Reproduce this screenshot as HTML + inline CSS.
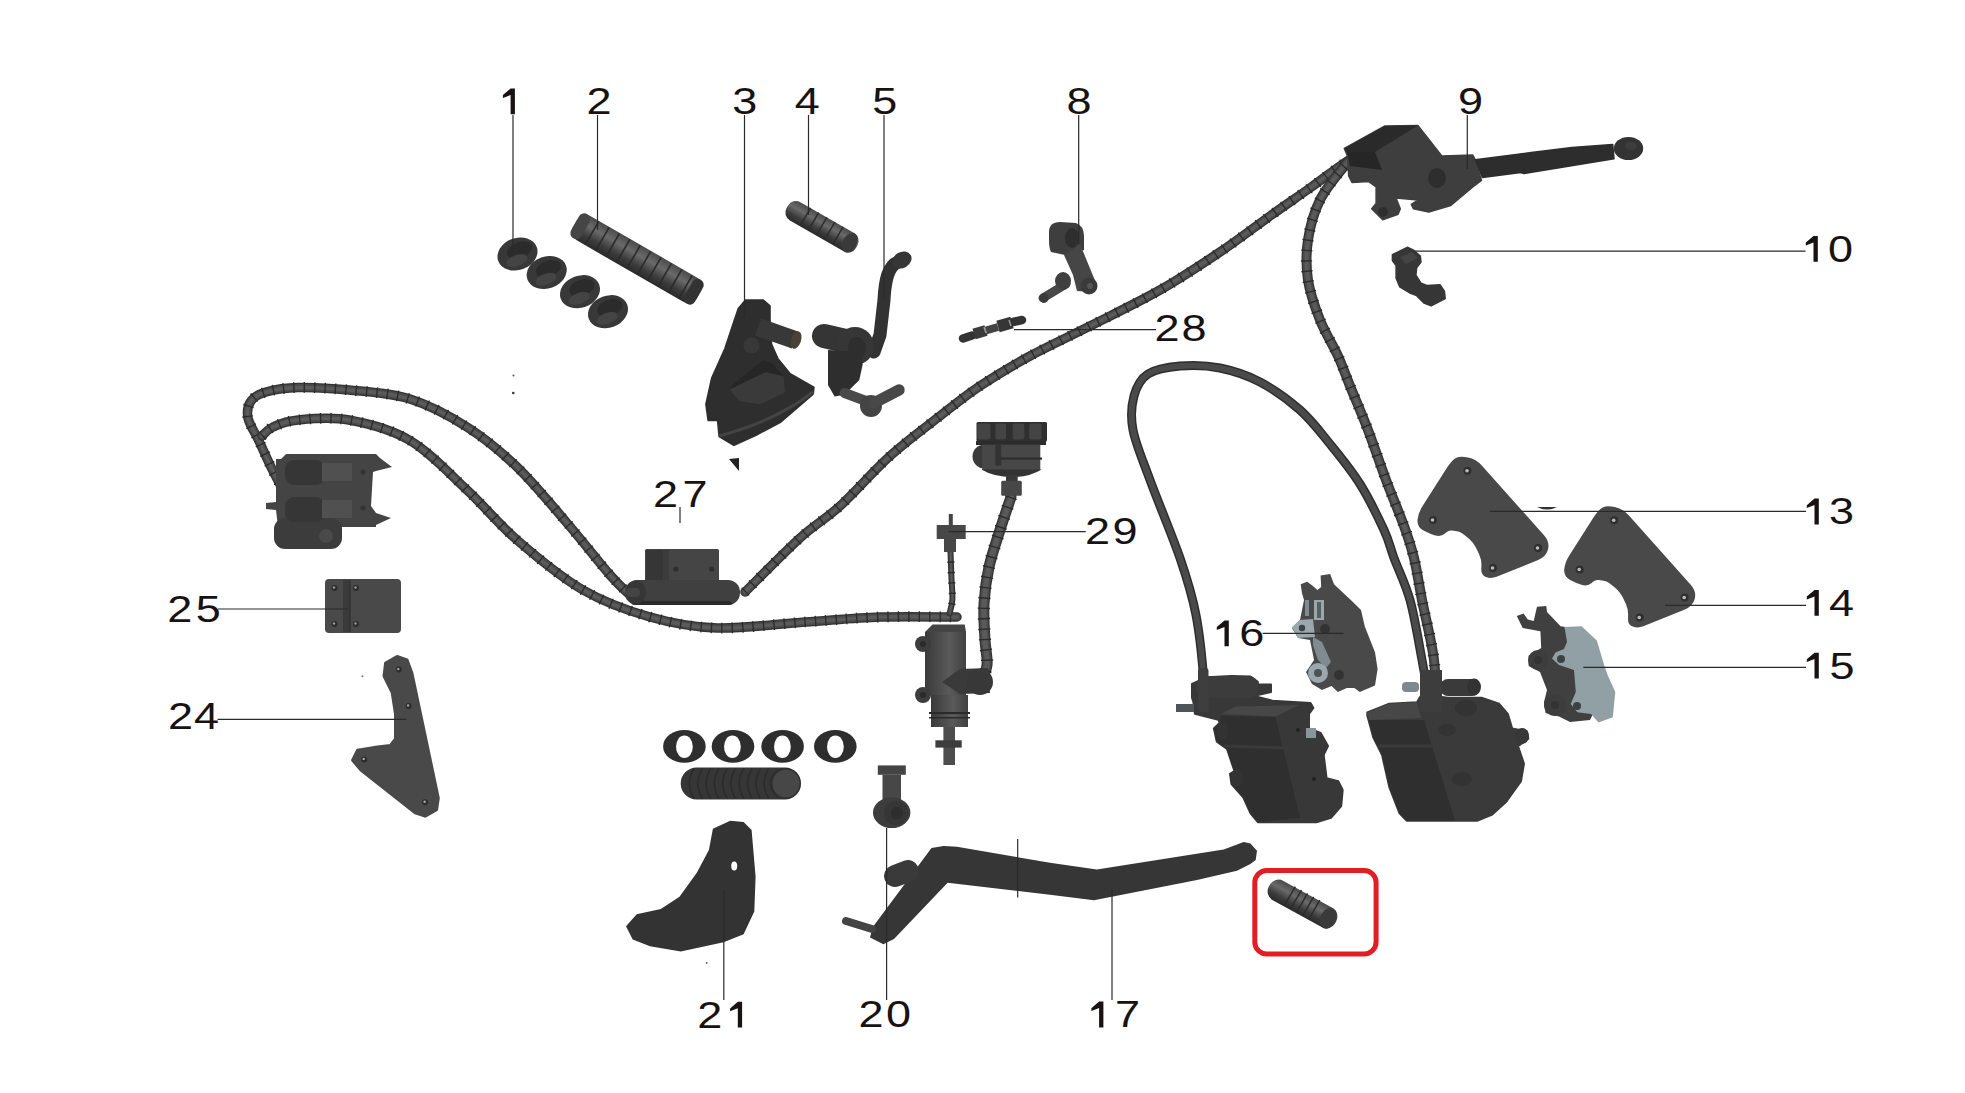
<!DOCTYPE html>
<html><head><meta charset="utf-8"><style>html,body{margin:0;padding:0;background:#fff;width:1965px;height:1093px;overflow:hidden}svg{display:block}</style></head>
<body><svg width="1965" height="1093" viewBox="0 0 1965 1093"><rect width="1965" height="1093" fill="#fff"/>
<path d="M284 492 C282.0 488.2 276.2 477.5 272 469 C267.8 460.5 263.0 449.5 259 441 C255.0 432.5 249.3 424.7 248 418 C246.7 411.3 248.0 405.3 251 401 C254.0 396.7 258.2 394.2 266 392 C273.8 389.8 284.2 387.8 298 387.5 C311.8 387.2 330.3 388.1 349 390 C367.7 391.9 390.3 392.8 410 399 C429.7 405.2 449.2 415.7 467 427 C484.8 438.3 500.3 451.0 517 467 C533.7 483.0 551.5 505.0 567 523 C582.5 541.0 599.2 562.7 610 575 C620.8 587.3 628.3 593.3 632 597" fill="none" stroke="#333" stroke-width="9.5" stroke-linecap="round" stroke-linejoin="round"/>
<path d="M284 492 C282.0 488.2 276.2 477.5 272 469 C267.8 460.5 263.0 449.5 259 441 C255.0 432.5 249.3 424.7 248 418 C246.7 411.3 248.0 405.3 251 401 C254.0 396.7 258.2 394.2 266 392 C273.8 389.8 284.2 387.8 298 387.5 C311.8 387.2 330.3 388.1 349 390 C367.7 391.9 390.3 392.8 410 399 C429.7 405.2 449.2 415.7 467 427 C484.8 438.3 500.3 451.0 517 467 C533.7 483.0 551.5 505.0 567 523 C582.5 541.0 599.2 562.7 610 575 C620.8 587.3 628.3 593.3 632 597" fill="none" stroke="#4a4a4a" stroke-width="7.0" stroke-linecap="round" stroke-linejoin="round"/>
<path d="M284 492 C282.0 488.2 276.2 477.5 272 469 C267.8 460.5 263.0 449.5 259 441 C255.0 432.5 249.3 424.7 248 418 C246.7 411.3 248.0 405.3 251 401 C254.0 396.7 258.2 394.2 266 392 C273.8 389.8 284.2 387.8 298 387.5 C311.8 387.2 330.3 388.1 349 390 C367.7 391.9 390.3 392.8 410 399 C429.7 405.2 449.2 415.7 467 427 C484.8 438.3 500.3 451.0 517 467 C533.7 483.0 551.5 505.0 567 523 C582.5 541.0 599.2 562.7 610 575 C620.8 587.3 628.3 593.3 632 597" fill="none" stroke="#5a5a5a" stroke-width="3.5" stroke-linecap="round" stroke-linejoin="round"/>
<path d="M284 492 C282.0 488.2 276.2 477.5 272 469 C267.8 460.5 263.0 449.5 259 441 C255.0 432.5 249.3 424.7 248 418 C246.7 411.3 248.0 405.3 251 401 C254.0 396.7 258.2 394.2 266 392 C273.8 389.8 284.2 387.8 298 387.5 C311.8 387.2 330.3 388.1 349 390 C367.7 391.9 390.3 392.8 410 399 C429.7 405.2 449.2 415.7 467 427 C484.8 438.3 500.3 451.0 517 467 C533.7 483.0 551.5 505.0 567 523 C582.5 541.0 599.2 562.7 610 575 C620.8 587.3 628.3 593.3 632 597" fill="none" stroke="#2c2c2c" stroke-width="10.7" stroke-dasharray="1.4 9" stroke-linecap="butt"/>
<path d="M262 436 C263.8 434.5 267.0 429.7 273 427 C279.0 424.3 285.3 421.2 298 420 C310.7 418.8 330.3 416.6 349 420 C367.7 423.4 390.3 428.8 410 440.5 C429.7 452.2 449.2 473.4 467 490 C484.8 506.6 497.7 523.3 517 540 C536.3 556.7 560.8 577.2 583 590 C605.2 602.8 627.7 610.7 650 617 C672.3 623.3 691.2 627.2 717 628 C742.8 628.8 777.8 623.8 805 622 C832.2 620.2 854.7 617.8 880 617 C905.3 616.2 944.2 617.0 957 617" fill="none" stroke="#333" stroke-width="9.5" stroke-linecap="round" stroke-linejoin="round"/>
<path d="M262 436 C263.8 434.5 267.0 429.7 273 427 C279.0 424.3 285.3 421.2 298 420 C310.7 418.8 330.3 416.6 349 420 C367.7 423.4 390.3 428.8 410 440.5 C429.7 452.2 449.2 473.4 467 490 C484.8 506.6 497.7 523.3 517 540 C536.3 556.7 560.8 577.2 583 590 C605.2 602.8 627.7 610.7 650 617 C672.3 623.3 691.2 627.2 717 628 C742.8 628.8 777.8 623.8 805 622 C832.2 620.2 854.7 617.8 880 617 C905.3 616.2 944.2 617.0 957 617" fill="none" stroke="#4a4a4a" stroke-width="7.0" stroke-linecap="round" stroke-linejoin="round"/>
<path d="M262 436 C263.8 434.5 267.0 429.7 273 427 C279.0 424.3 285.3 421.2 298 420 C310.7 418.8 330.3 416.6 349 420 C367.7 423.4 390.3 428.8 410 440.5 C429.7 452.2 449.2 473.4 467 490 C484.8 506.6 497.7 523.3 517 540 C536.3 556.7 560.8 577.2 583 590 C605.2 602.8 627.7 610.7 650 617 C672.3 623.3 691.2 627.2 717 628 C742.8 628.8 777.8 623.8 805 622 C832.2 620.2 854.7 617.8 880 617 C905.3 616.2 944.2 617.0 957 617" fill="none" stroke="#5a5a5a" stroke-width="3.5" stroke-linecap="round" stroke-linejoin="round"/>
<path d="M262 436 C263.8 434.5 267.0 429.7 273 427 C279.0 424.3 285.3 421.2 298 420 C310.7 418.8 330.3 416.6 349 420 C367.7 423.4 390.3 428.8 410 440.5 C429.7 452.2 449.2 473.4 467 490 C484.8 506.6 497.7 523.3 517 540 C536.3 556.7 560.8 577.2 583 590 C605.2 602.8 627.7 610.7 650 617 C672.3 623.3 691.2 627.2 717 628 C742.8 628.8 777.8 623.8 805 622 C832.2 620.2 854.7 617.8 880 617 C905.3 616.2 944.2 617.0 957 617" fill="none" stroke="#2c2c2c" stroke-width="10.7" stroke-dasharray="1.4 9" stroke-linecap="butt"/>
<path d="M745 592 C754.2 583.0 784.2 552.3 800 538 C815.8 523.7 825.0 519.7 840 506 C855.0 492.3 873.3 471.0 890 456 C906.7 441.0 925.0 427.7 940 416 C955.0 404.3 965.0 396.0 980 386 C995.0 376.0 1011.7 366.0 1030 356 C1048.3 346.0 1068.3 337.0 1090 326 C1111.7 315.0 1138.3 302.3 1160 290 C1181.7 277.7 1201.7 264.3 1220 252 C1238.3 239.7 1255.0 226.7 1270 216 C1285.0 205.3 1298.3 196.3 1310 188 C1321.7 179.7 1333.0 171.0 1340 166 C1347.0 161.0 1350.0 159.3 1352 158" fill="none" stroke="#333" stroke-width="9.5" stroke-linecap="round" stroke-linejoin="round"/>
<path d="M745 592 C754.2 583.0 784.2 552.3 800 538 C815.8 523.7 825.0 519.7 840 506 C855.0 492.3 873.3 471.0 890 456 C906.7 441.0 925.0 427.7 940 416 C955.0 404.3 965.0 396.0 980 386 C995.0 376.0 1011.7 366.0 1030 356 C1048.3 346.0 1068.3 337.0 1090 326 C1111.7 315.0 1138.3 302.3 1160 290 C1181.7 277.7 1201.7 264.3 1220 252 C1238.3 239.7 1255.0 226.7 1270 216 C1285.0 205.3 1298.3 196.3 1310 188 C1321.7 179.7 1333.0 171.0 1340 166 C1347.0 161.0 1350.0 159.3 1352 158" fill="none" stroke="#4a4a4a" stroke-width="7.0" stroke-linecap="round" stroke-linejoin="round"/>
<path d="M745 592 C754.2 583.0 784.2 552.3 800 538 C815.8 523.7 825.0 519.7 840 506 C855.0 492.3 873.3 471.0 890 456 C906.7 441.0 925.0 427.7 940 416 C955.0 404.3 965.0 396.0 980 386 C995.0 376.0 1011.7 366.0 1030 356 C1048.3 346.0 1068.3 337.0 1090 326 C1111.7 315.0 1138.3 302.3 1160 290 C1181.7 277.7 1201.7 264.3 1220 252 C1238.3 239.7 1255.0 226.7 1270 216 C1285.0 205.3 1298.3 196.3 1310 188 C1321.7 179.7 1333.0 171.0 1340 166 C1347.0 161.0 1350.0 159.3 1352 158" fill="none" stroke="#5a5a5a" stroke-width="3.5" stroke-linecap="round" stroke-linejoin="round"/>
<path d="M745 592 C754.2 583.0 784.2 552.3 800 538 C815.8 523.7 825.0 519.7 840 506 C855.0 492.3 873.3 471.0 890 456 C906.7 441.0 925.0 427.7 940 416 C955.0 404.3 965.0 396.0 980 386 C995.0 376.0 1011.7 366.0 1030 356 C1048.3 346.0 1068.3 337.0 1090 326 C1111.7 315.0 1138.3 302.3 1160 290 C1181.7 277.7 1201.7 264.3 1220 252 C1238.3 239.7 1255.0 226.7 1270 216 C1285.0 205.3 1298.3 196.3 1310 188 C1321.7 179.7 1333.0 171.0 1340 166 C1347.0 161.0 1350.0 159.3 1352 158" fill="none" stroke="#2c2c2c" stroke-width="10.7" stroke-dasharray="1.4 9" stroke-linecap="butt"/>
<path d="M1352 160 C1351.0 160.7 1351.3 157.3 1346 164 C1340.7 170.7 1326.3 187.3 1320 200 C1313.7 212.7 1310.0 226.7 1308 240 C1306.0 253.3 1306.0 266.7 1308 280 C1310.0 293.3 1315.0 307.3 1320 320 C1325.0 332.7 1333.0 345.0 1338 356 C1343.0 367.0 1345.0 373.7 1350 386 C1355.0 398.3 1362.0 414.3 1368 430 C1374.0 445.7 1380.0 464.0 1386 480 C1392.0 496.0 1399.3 513.0 1404 526 C1408.7 539.0 1411.0 545.7 1414 558 C1417.0 570.3 1418.7 583.0 1422 600 C1425.3 617.0 1431.7 641.3 1434 660 C1436.3 678.7 1435.7 703.3 1436 712" fill="none" stroke="#333" stroke-width="10" stroke-linecap="round" stroke-linejoin="round"/>
<path d="M1352 160 C1351.0 160.7 1351.3 157.3 1346 164 C1340.7 170.7 1326.3 187.3 1320 200 C1313.7 212.7 1310.0 226.7 1308 240 C1306.0 253.3 1306.0 266.7 1308 280 C1310.0 293.3 1315.0 307.3 1320 320 C1325.0 332.7 1333.0 345.0 1338 356 C1343.0 367.0 1345.0 373.7 1350 386 C1355.0 398.3 1362.0 414.3 1368 430 C1374.0 445.7 1380.0 464.0 1386 480 C1392.0 496.0 1399.3 513.0 1404 526 C1408.7 539.0 1411.0 545.7 1414 558 C1417.0 570.3 1418.7 583.0 1422 600 C1425.3 617.0 1431.7 641.3 1434 660 C1436.3 678.7 1435.7 703.3 1436 712" fill="none" stroke="#4a4a4a" stroke-width="7.5" stroke-linecap="round" stroke-linejoin="round"/>
<path d="M1352 160 C1351.0 160.7 1351.3 157.3 1346 164 C1340.7 170.7 1326.3 187.3 1320 200 C1313.7 212.7 1310.0 226.7 1308 240 C1306.0 253.3 1306.0 266.7 1308 280 C1310.0 293.3 1315.0 307.3 1320 320 C1325.0 332.7 1333.0 345.0 1338 356 C1343.0 367.0 1345.0 373.7 1350 386 C1355.0 398.3 1362.0 414.3 1368 430 C1374.0 445.7 1380.0 464.0 1386 480 C1392.0 496.0 1399.3 513.0 1404 526 C1408.7 539.0 1411.0 545.7 1414 558 C1417.0 570.3 1418.7 583.0 1422 600 C1425.3 617.0 1431.7 641.3 1434 660 C1436.3 678.7 1435.7 703.3 1436 712" fill="none" stroke="#5a5a5a" stroke-width="4" stroke-linecap="round" stroke-linejoin="round"/>
<path d="M1352 160 C1351.0 160.7 1351.3 157.3 1346 164 C1340.7 170.7 1326.3 187.3 1320 200 C1313.7 212.7 1310.0 226.7 1308 240 C1306.0 253.3 1306.0 266.7 1308 280 C1310.0 293.3 1315.0 307.3 1320 320 C1325.0 332.7 1333.0 345.0 1338 356 C1343.0 367.0 1345.0 373.7 1350 386 C1355.0 398.3 1362.0 414.3 1368 430 C1374.0 445.7 1380.0 464.0 1386 480 C1392.0 496.0 1399.3 513.0 1404 526 C1408.7 539.0 1411.0 545.7 1414 558 C1417.0 570.3 1418.7 583.0 1422 600 C1425.3 617.0 1431.7 641.3 1434 660 C1436.3 678.7 1435.7 703.3 1436 712" fill="none" stroke="#2c2c2c" stroke-width="11.2" stroke-dasharray="1.4 9" stroke-linecap="butt"/>
<path d="M1203 711 C1203.2 706.3 1205.2 699.0 1204 683 C1202.8 667.0 1200.0 635.8 1196 615 C1192.0 594.2 1187.7 580.5 1180 558 C1172.3 535.5 1157.8 501.3 1150 480 C1142.2 458.7 1135.7 444.0 1133 430 C1130.3 416.0 1131.5 405.3 1134 396 C1136.5 386.7 1140.3 379.0 1148 374 C1155.7 369.0 1168.0 367.0 1180 366 C1192.0 365.0 1206.7 365.3 1220 368 C1233.3 370.7 1246.7 375.0 1260 382 C1273.3 389.0 1288.3 399.7 1300 410 C1311.7 420.3 1320.0 431.7 1330 444 C1340.0 456.3 1351.0 469.7 1360 484 C1369.0 498.3 1378.3 517.7 1384 530 C1389.7 542.3 1389.7 546.3 1394 558 C1398.3 569.7 1405.3 583.0 1410 600 C1414.7 617.0 1418.7 642.3 1422 660 C1425.3 677.7 1428.7 698.3 1430 706" fill="none" stroke="#2e2e2e" stroke-width="9" stroke-linecap="round" stroke-linejoin="round"/>
<path d="M1203 711 C1203.2 706.3 1205.2 699.0 1204 683 C1202.8 667.0 1200.0 635.8 1196 615 C1192.0 594.2 1187.7 580.5 1180 558 C1172.3 535.5 1157.8 501.3 1150 480 C1142.2 458.7 1135.7 444.0 1133 430 C1130.3 416.0 1131.5 405.3 1134 396 C1136.5 386.7 1140.3 379.0 1148 374 C1155.7 369.0 1168.0 367.0 1180 366 C1192.0 365.0 1206.7 365.3 1220 368 C1233.3 370.7 1246.7 375.0 1260 382 C1273.3 389.0 1288.3 399.7 1300 410 C1311.7 420.3 1320.0 431.7 1330 444 C1340.0 456.3 1351.0 469.7 1360 484 C1369.0 498.3 1378.3 517.7 1384 530 C1389.7 542.3 1389.7 546.3 1394 558 C1398.3 569.7 1405.3 583.0 1410 600 C1414.7 617.0 1418.7 642.3 1422 660 C1425.3 677.7 1428.7 698.3 1430 706" fill="none" stroke="#4a4a4a" stroke-width="6" stroke-linecap="round" stroke-linejoin="round"/>
<path d="M1011 497 C1009.2 502.5 1003.7 518.3 1000 530 C996.3 541.7 991.7 554.7 989 567 C986.3 579.3 984.7 591.8 984 604 C983.3 616.2 984.5 629.8 985 640 C985.5 650.2 987.8 657.8 987 665 C986.2 672.2 981.2 680.0 980 683" fill="none" stroke="#333" stroke-width="11" stroke-linecap="round" stroke-linejoin="round"/>
<path d="M1011 497 C1009.2 502.5 1003.7 518.3 1000 530 C996.3 541.7 991.7 554.7 989 567 C986.3 579.3 984.7 591.8 984 604 C983.3 616.2 984.5 629.8 985 640 C985.5 650.2 987.8 657.8 987 665 C986.2 672.2 981.2 680.0 980 683" fill="none" stroke="#4a4a4a" stroke-width="8.5" stroke-linecap="round" stroke-linejoin="round"/>
<path d="M1011 497 C1009.2 502.5 1003.7 518.3 1000 530 C996.3 541.7 991.7 554.7 989 567 C986.3 579.3 984.7 591.8 984 604 C983.3 616.2 984.5 629.8 985 640 C985.5 650.2 987.8 657.8 987 665 C986.2 672.2 981.2 680.0 980 683" fill="none" stroke="#5a5a5a" stroke-width="5" stroke-linecap="round" stroke-linejoin="round"/>
<path d="M1011 497 C1009.2 502.5 1003.7 518.3 1000 530 C996.3 541.7 991.7 554.7 989 567 C986.3 579.3 984.7 591.8 984 604 C983.3 616.2 984.5 629.8 985 640 C985.5 650.2 987.8 657.8 987 665 C986.2 672.2 981.2 680.0 980 683" fill="none" stroke="#2c2c2c" stroke-width="12.2" stroke-dasharray="1.4 9" stroke-linecap="butt"/>
<path d="M950.5 551 C950.6 555.3 951.1 568.5 951.4 576.6 C951.7 584.7 952.7 593.4 952.4 599.5 C952.1 605.6 950.1 611.0 949.6 613.3" fill="none" stroke="#333" stroke-width="6" stroke-linecap="round" stroke-linejoin="round"/>
<path d="M950.5 551 C950.6 555.3 951.1 568.5 951.4 576.6 C951.7 584.7 952.7 593.4 952.4 599.5 C952.1 605.6 950.1 611.0 949.6 613.3" fill="none" stroke="#4a4a4a" stroke-width="3.5" stroke-linecap="round" stroke-linejoin="round"/>
<path d="M950.5 551 C950.6 555.3 951.1 568.5 951.4 576.6 C951.7 584.7 952.7 593.4 952.4 599.5 C952.1 605.6 950.1 611.0 949.6 613.3" fill="none" stroke="#5a5a5a" stroke-width="1.5" stroke-linecap="round" stroke-linejoin="round"/>
<path d="M950.5 551 C950.6 555.3 951.1 568.5 951.4 576.6 C951.7 584.7 952.7 593.4 952.4 599.5 C952.1 605.6 950.1 611.0 949.6 613.3" fill="none" stroke="#2c2c2c" stroke-width="7.2" stroke-dasharray="1.4 9" stroke-linecap="butt"/>
<g transform="rotate(-20 517.5 254)"><ellipse cx="517.5" cy="254" rx="20.5" ry="16" fill="#383838"/><ellipse cx="520.5" cy="251" rx="13" ry="8" fill="#2b2b2b"/><ellipse cx="514.5" cy="260" rx="11" ry="5.5" fill="#444"/></g>
<g transform="rotate(-20 546.7 272.5)"><ellipse cx="546.7" cy="272.5" rx="20.5" ry="16" fill="#383838"/><ellipse cx="549.7" cy="269.5" rx="13" ry="8" fill="#2b2b2b"/><ellipse cx="543.7" cy="278.5" rx="11" ry="5.5" fill="#444"/></g>
<g transform="rotate(-20 580 291.7)"><ellipse cx="580" cy="291.7" rx="20.5" ry="16" fill="#383838"/><ellipse cx="583" cy="288.7" rx="13" ry="8" fill="#2b2b2b"/><ellipse cx="577" cy="297.7" rx="11" ry="5.5" fill="#444"/></g>
<g transform="rotate(-20 608 311.7)"><ellipse cx="608" cy="311.7" rx="20.5" ry="16" fill="#383838"/><ellipse cx="611" cy="308.7" rx="13" ry="8" fill="#2b2b2b"/><ellipse cx="605" cy="317.7" rx="11" ry="5.5" fill="#444"/></g>
<defs><linearGradient id="gr" x1="0" y1="0" x2="0" y2="1"><stop offset="0" stop-color="#4a4a4a"/><stop offset="0.35" stop-color="#6a6a6a"/><stop offset="0.7" stop-color="#3c3c3c"/><stop offset="1" stop-color="#2a2a2a"/></linearGradient></defs>
<g transform="rotate(30 637 259)"><rect x="565.5" y="245" width="143" height="28" rx="10" fill="url(#gr)"/><rect x="565.5" y="245" width="12" height="28" rx="6" fill="#454545"/><rect x="696.5" y="245" width="12" height="28" rx="6" fill="#333"/><line x1="585" y1="245.5" x2="585" y2="272.5" stroke="#2a2a2a" stroke-width="1.6"/><line x1="597" y1="245.5" x2="597" y2="272.5" stroke="#2a2a2a" stroke-width="1.6"/><line x1="609" y1="245.5" x2="609" y2="272.5" stroke="#2a2a2a" stroke-width="1.6"/><line x1="621" y1="245.5" x2="621" y2="272.5" stroke="#2a2a2a" stroke-width="1.6"/><line x1="633" y1="245.5" x2="633" y2="272.5" stroke="#2a2a2a" stroke-width="1.6"/><line x1="645" y1="245.5" x2="645" y2="272.5" stroke="#2a2a2a" stroke-width="1.6"/><line x1="657" y1="245.5" x2="657" y2="272.5" stroke="#2a2a2a" stroke-width="1.6"/><line x1="669" y1="245.5" x2="669" y2="272.5" stroke="#2a2a2a" stroke-width="1.6"/><line x1="681" y1="245.5" x2="681" y2="272.5" stroke="#2a2a2a" stroke-width="1.6"/><line x1="693" y1="245.5" x2="693" y2="272.5" stroke="#2a2a2a" stroke-width="1.6"/></g>
<g transform="rotate(29.9 822 226.75)"><rect x="782" y="216.25" width="80" height="21" rx="9" fill="url(#gr)"/><ellipse cx="854" cy="226.75" rx="7" ry="10.5" fill="#3a3a3a"/></g>
<line x1="810.6" y1="207.8" x2="800.6" y2="224.8" stroke="#2c2c2c" stroke-width="1.5"/>
<line x1="818.72" y1="212.56" x2="808.72" y2="229.56" stroke="#2c2c2c" stroke-width="1.5"/>
<line x1="826.84" y1="217.32" x2="816.84" y2="234.32" stroke="#2c2c2c" stroke-width="1.5"/>
<line x1="834.96" y1="222.08" x2="824.96" y2="239.08" stroke="#2c2c2c" stroke-width="1.5"/>
<line x1="843.08" y1="226.84" x2="833.08" y2="243.84" stroke="#2c2c2c" stroke-width="1.5"/>
<g transform="rotate(28.9 1302.5 904)"><rect x="1264.6" y="893" width="75.8" height="22" rx="10" fill="url(#gr)"/><ellipse cx="1332" cy="904" rx="8" ry="11" fill="#3a3a3a"/></g>
<line x1="1295.34" y1="886.72" x2="1284.34" y2="905.72" stroke="#2c2c2c" stroke-width="1.5"/>
<line x1="1301.45" y1="890.1" x2="1290.45" y2="909.1" stroke="#2c2c2c" stroke-width="1.5"/>
<line x1="1307.56" y1="893.48" x2="1296.56" y2="912.48" stroke="#2c2c2c" stroke-width="1.5"/>
<line x1="1313.67" y1="896.86" x2="1302.67" y2="915.86" stroke="#2c2c2c" stroke-width="1.5"/>
<line x1="1319.78" y1="900.24" x2="1308.78" y2="919.24" stroke="#2c2c2c" stroke-width="1.5"/>
<path d="M745.6 300.2 L763.2 300.2 L769.8 306.1 L769.8 319.3 L771.3 344.2 L777.8 358.8 L789.6 373.5 L807.1 383.7 L813.7 387.4 L813.0 394.0 L780.8 421.8 L755.9 435.0 L733.9 445.2 L719.3 436.4 L717.8 420.3 L708.3 420.3 L706.1 404.2 L712.0 377.8 L725.1 348.6 L738.3 309.0 Z" fill="#2e2e2e" stroke="#2e2e2e" stroke-width="2" stroke-linejoin="round"/>
<path d="M733.9 383.7 L763.2 360.3 L772.0 363.2 L783.7 376.4 L766.1 372.0 L729.5 389.6 Z" fill="#262626" />
<path d="M729.5 389.6 L766.1 372.0 L783.7 376.4 L785.0 392.5 L760.3 404.2 L739.8 401.3 Z" fill="#3a3a3a" />
<path d="M719 436 C760 425 790 410 813 392" fill="none" stroke="#444" stroke-width="3"/>
<circle cx="751.5" cy="345.6" r="8" fill="#383838"/>
<line x1="758" y1="327" x2="795" y2="340" stroke="#383838" stroke-width="18" stroke-linecap="butt"/>
<ellipse cx="796" cy="340" rx="5" ry="9" transform="rotate(19 796 340)" fill="#4a4236"/>
<path d="M729 459 L739 458 L739 471 Z" fill="#222"/>
<circle cx="513.5" cy="375.5" r="1" fill="#555"/><circle cx="513.3" cy="393" r="1.3" fill="#333"/>
<path d="M898 262 C888 266 885 280 884 300 L880 335 L874 352" fill="none" stroke="#323232" stroke-width="13" stroke-linecap="round" stroke-linejoin="round"/>
<ellipse cx="902" cy="260" rx="10" ry="8" transform="rotate(-30 902 260)" fill="#363636"/>
<line x1="824" y1="336" x2="850" y2="342" stroke="#353535" stroke-width="24" stroke-linecap="round"/>
<ellipse cx="855" cy="346" rx="19" ry="19" fill="#363636"/><ellipse cx="857" cy="348" rx="9" ry="11" fill="#2e2e2e"/>
<path d="M828.0 350.0 L862.0 352.0 L862.6 365.1 L859.3 380.0 L844.5 394.7 L834.6 396.4 L828.0 385.0 Z" fill="#2e2e2e" />
<line x1="844.5" y1="393" x2="866" y2="401" stroke="#4a4a4a" stroke-width="10" stroke-linecap="round"/>
<circle cx="871" cy="406" r="11" fill="#444"/>
<line x1="874" y1="403" x2="899" y2="390" stroke="#484848" stroke-width="11.5" stroke-linecap="round"/>
<path d="M1049 232 Q1049 222 1060 222 L1076 223 Q1084 226 1084 236 L1084 250 L1065 255 L1051 252 Q1049 248 1049 240 Z" fill="#3e3e3e"/>
<path d="M1064.0 255.0 L1080.0 244.0 L1096.0 283.0 L1092.0 292.0 L1077.0 291.0 L1073.0 275.0 Z" fill="#464646" />
<line x1="1043" y1="298" x2="1066" y2="284" stroke="#484848" stroke-width="9" stroke-linecap="round"/>
<ellipse cx="1044" cy="298" rx="4.5" ry="5" fill="#3a3a3a"/>
<ellipse cx="1063" cy="281" rx="8" ry="9" fill="#404040"/>
<circle cx="1089" cy="286" r="8.5" fill="#3a3a3a"/><circle cx="1090" cy="286" r="3" fill="#555"/>
<ellipse cx="1072" cy="238" rx="7" ry="10" fill="#2e2e2e"/>
<line x1="963" y1="338.5" x2="972" y2="335.5" stroke="#333" stroke-width="8.5" stroke-linecap="round"/>
<line x1="974" y1="334" x2="986" y2="330.5" stroke="#3a3a3a" stroke-width="11" stroke-linecap="butt"/>
<line x1="986" y1="330.5" x2="998" y2="327" stroke="#444" stroke-width="8" stroke-linecap="butt"/>
<line x1="998" y1="326.5" x2="1012" y2="322.5" stroke="#363636" stroke-width="12" stroke-linecap="butt"/>
<line x1="1013" y1="322" x2="1022" y2="320" stroke="#333" stroke-width="8.5" stroke-linecap="round"/>
<line x1="984" y1="327" x2="986" y2="333" stroke="#999" stroke-width="1.5"/><line x1="1009" y1="320" x2="1011" y2="326" stroke="#999" stroke-width="1.5"/>
<path d="M1344.3 148.4 L1384.9 125.9 L1417.9 125.4 L1442.0 156.1 L1472.8 155.0 L1475.0 159.4 L1481.5 180.3 L1472.8 186.9 L1450.8 205.5 L1428.8 212.1 L1413.5 208.8 L1411.3 204.4 L1417.9 200.0 L1395.9 197.9 L1400.3 208.8 L1398.1 214.3 L1382.7 219.8 L1371.7 208.8 L1376.1 203.4 L1376.1 186.9 L1368.4 181.4 L1352.0 182.5 L1348.7 175.9 L1347.6 156.1 Z" fill="#3e3e3e" stroke="#3e3e3e" stroke-width="1.5" stroke-linejoin="round"/>
<path d="M1344.3 148.4 L1384.9 125.9 L1417.9 125.4 L1375.0 152.0 L1350.0 158.0 Z" fill="#2a2a2a" />
<path d="M1347.0 152.0 L1375.0 152.0 L1382.0 170.0 L1350.0 166.0 Z" fill="#262626" />
<circle cx="1383" cy="212" r="5" fill="#2e2e2e"/>
<ellipse cx="1437" cy="178" rx="9" ry="10" fill="#2e2e2e"/>
<path d="M1475.3 159.7 L1531.2 152.6 L1572.0 147.5 L1612.7 144.4 L1614.0 158.7 L1524.0 173.5 L1520.6 172.5 L1482.4 177.5 Z" fill="#2d2d2d" stroke="#2d2d2d" stroke-width="1.5" stroke-linejoin="round"/>
<ellipse cx="1628.5" cy="148.5" rx="14.7" ry="11.5" fill="#333"/><ellipse cx="1631" cy="146" rx="6" ry="4" fill="#3d3d3d"/>
<path d="M1392.4 254.6 L1407.8 247.3 L1413.7 250.2 L1420.3 256.1 L1421.0 262.0 L1416.6 267.8 L1415.9 275.1 L1421.0 283.2 L1426.9 285.4 L1440.0 284.7 L1444.4 291.2 L1445.2 298.6 L1431.2 305.9 L1423.9 303.0 L1416.6 295.6 L1409.3 292.7 L1399.8 286.9 L1396.1 278.1 L1396.1 265.6 L1392.4 260.5 Z" fill="#363636" stroke="#363636" stroke-width="1.5" stroke-linejoin="round"/>
<path d="M1400 257 L1412 252 L1418 258 L1406 264 Z" fill="#444"/>
<path d="M281.0 459.0 L286.0 454.0 L376.0 454.0 L380.0 458.0 L392.0 467.0 L376.0 471.0 L373.0 472.0 L371.0 506.0 L376.0 513.0 L391.0 518.0 L376.0 525.0 L376.0 527.0 L278.0 527.0 L276.0 510.0 L266.0 509.0 L266.0 503.0 L276.0 502.0 L276.0 459.0 Z" fill="#444" />
<rect x="274" y="518" width="68" height="31" rx="11" fill="#3c3c3c"/><circle cx="326" cy="536" r="7" fill="#4a4a4a"/>
<rect x="285" y="460" width="40" height="25" rx="9" fill="#363636"/><rect x="322" y="463" width="30" height="18" fill="#505050"/>
<rect x="285" y="497" width="40" height="25" rx="9" fill="#363636"/><rect x="322" y="500" width="30" height="18" fill="#505050"/><circle cx="363" cy="472" r="2.5" fill="#333"/><circle cx="363" cy="508" r="2.5" fill="#333"/>
<rect x="325" y="579" width="76" height="54" rx="4" fill="#494949"/>
<rect x="343" y="580" width="7" height="52" fill="#3a3a3a"/>
<line x1="350" y1="580" x2="350" y2="632" stroke="#2a2a2a" stroke-width="1"/>
<circle cx="334.5" cy="588" r="3" fill="#2c2c2c"/><circle cx="334.0" cy="587.5" r="1.2" fill="#999"/>
<circle cx="356" cy="588" r="3" fill="#2c2c2c"/><circle cx="355.5" cy="587.5" r="1.2" fill="#999"/>
<circle cx="334.5" cy="624" r="3" fill="#2c2c2c"/><circle cx="334.0" cy="623.5" r="1.2" fill="#999"/>
<circle cx="356" cy="624" r="3" fill="#2c2c2c"/><circle cx="355.5" cy="623.5" r="1.2" fill="#999"/>
<path d="M397.1 656.5 L385.6 663.0 L384.0 676.2 L392.2 692.7 L395.5 714.1 L395.5 738.8 L390.5 745.4 L377.4 747.0 L357.6 750.3 L352.6 760.2 L360.9 770.0 L415.2 812.9 L425.1 816.2 L436.6 809.6 L438.3 798.0 L411.9 673.0 L407.0 659.8 Z" fill="#494949" stroke="#494949" stroke-width="3" stroke-linejoin="round"/>
<circle cx="398.8" cy="669.6" r="3" fill="#2c2c2c"/><circle cx="398.3" cy="669.1" r="1.2" fill="#aaa"/>
<circle cx="408.6" cy="705.9" r="3" fill="#2c2c2c"/><circle cx="408.1" cy="705.4" r="1.2" fill="#aaa"/>
<circle cx="364.2" cy="759.4" r="3" fill="#2c2c2c"/><circle cx="363.7" cy="758.9" r="1.2" fill="#aaa"/>
<circle cx="425.1" cy="802.2" r="3" fill="#2c2c2c"/><circle cx="424.6" cy="801.7" r="1.2" fill="#aaa"/>
<rect x="645" y="549" width="74" height="36" rx="1.5" fill="#454545"/>
<rect x="646" y="550" width="17" height="34" fill="#363636"/>
<rect x="663" y="550" width="6" height="34" fill="#3c3c3c"/>
<circle cx="675.8" cy="569" r="2.6" fill="#2e2e2e"/><circle cx="711.6" cy="569" r="2.6" fill="#2e2e2e"/>
<rect x="625" y="580" width="115" height="25" rx="12" fill="#404040"/>
<rect x="632" y="601" width="100" height="4" rx="2" fill="#2a2a2a"/>
<ellipse cx="636" cy="592.5" rx="10" ry="12" fill="#363636"/><rect x="626" y="588" width="14" height="9" rx="4" fill="#444"/>
<circle cx="984.5" cy="456.5" r="12" fill="#3a3a3a"/><circle cx="986.8" cy="456.1" r="3.5" fill="#2e2e2e"/>
<rect x="976.5" y="422" width="70.5" height="19.5" rx="1.5" fill="#2f2f2f"/>
<rect x="977.3" y="423.5" width="13.200000000000045" height="16" rx="2" fill="#444"/>
<rect x="995.4" y="423.5" width="10.700000000000045" height="16" rx="2" fill="#444"/>
<rect x="1012.7" y="423.5" width="11.599999999999909" height="16" rx="2" fill="#444"/>
<rect x="1029.2" y="423.5" width="12.299999999999955" height="16" rx="2" fill="#444"/>
<rect x="976" y="441" width="70" height="4" fill="#2c2c2c"/>
<rect x="982.2" y="444.6" width="58.1" height="25.5" fill="#474747"/>
<rect x="995.4" y="444.6" width="5.8" height="21" fill="#333"/>
<rect x="1000" y="457.5" width="42" height="2.2" fill="#2e2e2e"/>
<path d="M981.4 469.5 L1041.5 469.5 Q1030 477 1012 477 Q994 477 981.4 469.5 Z" fill="#333"/>
<rect x="1006" y="475" width="11.7" height="6" fill="#383838"/>
<rect x="1001.2" y="480.8" width="20.6" height="15" rx="1.5" fill="#474747"/>
<rect x="948.8" y="514" width="4" height="12" fill="#444"/>
<rect x="936.7" y="525" width="29" height="14" fill="#474747"/>
<rect x="944" y="539" width="12" height="13" fill="#474747"/>
<path d="M932.5 624.6 L964.7 624.6 L966 632 L925 632 Z" fill="#444"/>
<defs><linearGradient id="mc" x1="0" y1="0" x2="1" y2="0"><stop offset="0" stop-color="#3a3a3a"/><stop offset="0.6" stop-color="#5a5a5a"/><stop offset="1" stop-color="#404040"/></linearGradient></defs><rect x="925" y="632" width="41" height="63" fill="url(#mc)"/>
<circle cx="923" cy="644" r="8" fill="#3d3d3d"/><circle cx="923" cy="695" r="8" fill="#3d3d3d"/><circle cx="923" cy="644" r="3" fill="#2a2a2a"/><circle cx="923" cy="695" r="3" fill="#2a2a2a"/>
<path d="M942 682 L960 669 L988 668 L990 693 L960 694 Z" fill="#3a3a3a"/>
<circle cx="980" cy="682" r="13" fill="#383838"/>
<rect x="931" y="695" width="37" height="32" fill="url(#mc)"/><rect x="929" y="712" width="41" height="2" fill="#2a2a2a"/><rect x="929" y="717" width="41" height="1.5" fill="#2a2a2a"/>
<rect x="943.4" y="727" width="11.6" height="38" fill="#4d4d4d"/>
<rect x="935.4" y="740.3" width="26.3" height="7.3" fill="#3d3d3d"/>
<ellipse cx="684.4" cy="746.4" rx="21.3" ry="16.4" fill="#2e2e2e"/>
<ellipse cx="684.4" cy="746.7" rx="8.4" ry="11.3" fill="#fff"/>
<ellipse cx="733" cy="746.4" rx="21.3" ry="16.4" fill="#2e2e2e"/>
<ellipse cx="732.4" cy="746.7" rx="8.4" ry="11.3" fill="#fff"/>
<ellipse cx="782.6" cy="746.4" rx="21.3" ry="16.4" fill="#2e2e2e"/>
<ellipse cx="782.4" cy="746.7" rx="8.4" ry="11.3" fill="#fff"/>
<ellipse cx="835.3" cy="746.4" rx="21.3" ry="16.4" fill="#2e2e2e"/>
<ellipse cx="835.4" cy="746.7" rx="8.4" ry="11.3" fill="#fff"/>
<rect x="680.7" y="767.4" width="120.3" height="32" rx="16" fill="#363636"/>
<path d="M694.0 768.5 Q685.0 783.5 694.0 798.5" fill="none" stroke="#2a2a2a" stroke-width="1.4"/>
<path d="M702.3 768.5 Q693.3 783.5 702.3 798.5" fill="none" stroke="#2a2a2a" stroke-width="1.4"/>
<path d="M710.6 768.5 Q701.6 783.5 710.6 798.5" fill="none" stroke="#2a2a2a" stroke-width="1.4"/>
<path d="M718.9 768.5 Q709.9 783.5 718.9 798.5" fill="none" stroke="#2a2a2a" stroke-width="1.4"/>
<path d="M727.2 768.5 Q718.2 783.5 727.2 798.5" fill="none" stroke="#2a2a2a" stroke-width="1.4"/>
<path d="M735.5 768.5 Q726.5 783.5 735.5 798.5" fill="none" stroke="#2a2a2a" stroke-width="1.4"/>
<path d="M743.8 768.5 Q734.8 783.5 743.8 798.5" fill="none" stroke="#2a2a2a" stroke-width="1.4"/>
<path d="M752.1 768.5 Q743.1 783.5 752.1 798.5" fill="none" stroke="#2a2a2a" stroke-width="1.4"/>
<path d="M760.4 768.5 Q751.4 783.5 760.4 798.5" fill="none" stroke="#2a2a2a" stroke-width="1.4"/>
<path d="M768.7 768.5 Q759.7 783.5 768.7 798.5" fill="none" stroke="#2a2a2a" stroke-width="1.4"/>
<ellipse cx="785" cy="783.5" rx="15.5" ry="15.5" fill="#2e2e2e"/><ellipse cx="786" cy="783.5" rx="13.5" ry="14" fill="#474747"/>
<rect x="877.8" y="765.4" width="28" height="9.4" fill="#444"/>
<rect x="882.5" y="774.8" width="18.5" height="26" fill="#474747"/>
<ellipse cx="891.7" cy="812.7" rx="18.7" ry="15.4" fill="#3d3d3d"/>
<ellipse cx="896" cy="813" rx="12" ry="12" fill="#363636"/><ellipse cx="897" cy="813" rx="6" ry="6.5" fill="#2e2e2e"/>
<circle cx="706.7" cy="963" r="1" fill="#666"/><circle cx="362.5" cy="676.2" r="1" fill="#777"/>
<path d="M730.2 820.7 L712.9 828.7 L708.9 850.0 L696.8 872.8 L679.5 896.8 L660.8 908.9 L636.7 914.2 L626.0 926.2 L632.7 939.6 L650.0 946.3 L680.8 951.6 L723.6 942.3 L743.6 934.2 L754.3 911.5 L755.6 876.8 L751.6 830.0 L743.6 822.0 Z" fill="#333" />
<ellipse cx="734.2" cy="866" rx="3" ry="4.5" fill="#fff"/>
<path d="M931.5 848.0 L943.6 846.0 L957.0 846.7 L1050.0 862.8 L1096.8 869.4 L1223.7 849.4 L1243.7 842.0 L1250.4 843.4 L1257.0 850.7 L1255.7 860.0 L1250.4 864.0 L1237.0 870.8 L1197.0 880.0 L1094.0 900.2 L1050.0 894.8 L947.6 882.8 L894.0 938.9 L883.4 944.2 L870.0 937.6 L872.8 926.9 Z" fill="#363636" />
<line x1="895" y1="876" x2="908" y2="871" stroke="#3a3a3a" stroke-width="22" stroke-linecap="round"/>
<line x1="846" y1="921" x2="872" y2="929" stroke="#444" stroke-width="8" stroke-linecap="round"/>
<path d="M1456.0 458.0 L1456.0 458.0 Q1452.0 460.0 1447.1 467.6 L1422.9 505.4 Q1418.0 513.0 1417.5 520.0 L1417.5 520.0 Q1417.0 527.0 1423.5 530.5 L1423.5 530.5 Q1430.0 534.0 1435.5 535.5 L1435.5 535.5 Q1441.0 537.0 1445.0 533.5 L1446.7 532.0 Q1449.0 530.0 1452.0 530.5 L1457.0 531.2 Q1460.0 531.7 1462.4 533.5 L1466.7 536.7 Q1473.3 541.7 1477.1 549.9 L1479.2 554.5 Q1481.7 560.0 1481.4 566.0 L1481.3 569.0 Q1481.0 575.0 1486.0 577.0 L1486.0 577.0 Q1491.0 579.0 1496.6 576.8 L1537.6 560.3 Q1546.0 557.0 1548.0 549.5 L1548.0 549.5 Q1550.0 542.0 1544.0 535.3 L1482.0 465.7 Q1476.0 459.0 1468.0 457.5 L1468.0 457.5 Q1460.0 456.0 1456.0 458.0 Z" fill="#494949" />
<circle cx="1467.5" cy="470.8" r="4" fill="#2e2e2e"/><circle cx="1467.0" cy="470.8" r="1.8" fill="#bbb"/>
<circle cx="1433" cy="520" r="4" fill="#2e2e2e"/><circle cx="1432.5" cy="520" r="1.8" fill="#bbb"/>
<circle cx="1538" cy="548" r="4" fill="#2e2e2e"/><circle cx="1537.5" cy="548" r="1.8" fill="#bbb"/>
<circle cx="1493" cy="568" r="4" fill="#2e2e2e"/><circle cx="1492.5" cy="568" r="1.8" fill="#bbb"/>
<path d="M1602.7 507.5 L1602.7 507.5 Q1598.7 509.5 1593.8 517.1 L1569.6 554.9 Q1564.7 562.5 1564.2 569.5 L1564.2 569.5 Q1563.7 576.5 1570.2 580.0 L1570.2 580.0 Q1576.7 583.5 1582.2 585.0 L1582.2 585.0 Q1587.7 586.5 1591.7 583.0 L1593.4 581.5 Q1595.7 579.5 1598.7 580.0 L1603.7 580.7 Q1606.7 581.2 1609.1 583.0 L1613.3 586.2 Q1620.0 591.2 1623.8 599.4 L1625.9 604.0 Q1628.4 609.5 1628.1 615.5 L1628.0 618.5 Q1627.7 624.5 1632.7 626.5 L1632.7 626.5 Q1637.7 628.5 1643.3 626.3 L1684.3 609.8 Q1692.7 606.5 1694.7 599.0 L1694.7 599.0 Q1696.7 591.5 1690.7 584.8 L1628.7 515.2 Q1622.7 508.5 1614.7 507.0 L1614.7 507.0 Q1606.7 505.5 1602.7 507.5 Z" fill="#494949" />
<circle cx="1614.2" cy="520.3" r="4" fill="#2e2e2e"/><circle cx="1613.7" cy="520.3" r="1.8" fill="#bbb"/>
<circle cx="1579.7" cy="569.5" r="4" fill="#2e2e2e"/><circle cx="1579.2" cy="569.5" r="1.8" fill="#bbb"/>
<circle cx="1684.7" cy="597.5" r="4" fill="#2e2e2e"/><circle cx="1684.2" cy="597.5" r="1.8" fill="#bbb"/>
<circle cx="1639.7" cy="617.5" r="4" fill="#2e2e2e"/><circle cx="1639.2" cy="617.5" r="1.8" fill="#bbb"/>
<path d="M1537 507 Q1547 512 1557 507 Z" fill="#333"/>
<path d="M1516.8 616.0 L1523.6 613.6 L1527.8 619.5 L1533.7 621.0 L1537.0 606.8 L1546.3 606.0 L1547.0 612.0 L1560.6 626.2 L1566.0 627.0 L1590.0 640.0 L1600.0 700.0 L1590.0 720.0 L1570.0 722.0 L1559.0 716.5 L1545.5 713.0 L1544.0 702.0 L1547.0 690.0 L1540.0 672.0 L1528.6 666.0 L1528.6 655.7 L1541.2 648.0 L1540.4 631.2 L1522.7 628.0 Z" fill="#404040" />
<circle cx="1538" cy="660" r="10" fill="#3d3d3d"/><circle cx="1538" cy="660" r="4" fill="#333"/>
<circle cx="1555" cy="705" r="11" fill="#3d3d3d"/><circle cx="1555" cy="705" r="4" fill="#333"/>
<path d="M1564.0 627.0 L1581.6 626.2 L1596.8 640.5 L1604.4 665.8 L1607.7 675.3 L1615.3 692.0 L1612.8 717.3 L1598.5 722.4 L1591.0 714.0 L1577.4 712.3 L1570.7 703.9 L1575.8 692.0 L1574.0 670.0 L1559.0 665.0 L1552.0 658.4 L1555.5 652.5 L1564.0 649.0 L1567.0 642.0 L1564.8 628.7 Z" fill="#91a0a5" />
<circle cx="1561" cy="659" r="4" fill="#3a4244"/><circle cx="1577" cy="706" r="4" fill="#3a4244"/>
<path d="M1300.7 584.3 L1307.1 581.8 L1312.3 585.6 L1317.4 590.1 L1321.2 586.9 L1320.6 575.4 L1330.2 574.1 L1334.0 584.3 L1353.2 602.3 L1361.0 610.0 L1364.8 626.6 L1375.0 652.2 L1377.6 668.9 L1375.0 685.5 L1359.7 691.9 L1354.5 688.0 L1346.8 688.0 L1337.9 691.9 L1331.5 686.0 L1322.0 690.0 L1312.0 684.0 L1306.0 672.0 L1314.0 660.0 L1310.0 640.0 L1298.0 638.0 L1292.0 628.0 L1300.0 620.0 L1304.0 600.0 L1302.0 593.3 Z" fill="#494949" />
<rect x="1305" y="600" width="4" height="16" fill="#7f8b90"/>
<rect x="1314" y="600" width="10" height="20" fill="#9aa8ad"/>
<rect x="1317" y="602" width="4" height="16" fill="#55605f"/>
<path d="M1292.0 627.0 L1300.0 620.0 L1313.0 619.0 L1315.0 637.0 L1298.0 638.0 Z" fill="#9aa8ad" />
<circle cx="1302" cy="628" r="3.2" fill="#3a4244"/>
<path d="M1313.0 637.0 L1322.0 642.0 L1331.0 662.0 L1326.0 668.0 L1318.0 660.0 L1313.0 645.0 Z" fill="#7f8b90" />
<circle cx="1318" cy="673" r="10" fill="#9aa8ad"/>
<circle cx="1318" cy="673" r="4" fill="#4a5254"/>
<circle cx="1325" cy="629" r="5" fill="#333"/><circle cx="1339" cy="675" r="5" fill="#333"/>
<path d="M1192.0 697.8 L1193.4 702.2 L1194.9 713.9 L1218.3 719.8 L1219.8 722.7 L1213.9 728.5 L1216.8 741.7 L1227.0 749.0 L1234.4 771.0 L1230.0 773.9 L1231.5 784.2 L1243.2 797.3 L1250.5 813.4 L1257.8 822.2 L1316.4 822.2 L1331.0 817.8 L1341.2 806.1 L1342.7 790.0 L1338.3 781.2 L1326.6 778.3 L1323.7 754.9 L1328.0 746.1 L1320.7 733.0 L1309.0 728.5 L1309.0 713.9 L1313.4 708.0 L1310.5 703.0 L1272.4 700.7 L1254.9 696.3 L1257.8 694.9 L1271.0 692.0 L1271.0 684.6 L1257.8 684.6 L1257.8 681.7 L1250.5 676.6 L1231.5 675.9 L1206.6 677.3 L1192.0 684.0 Z" fill="#383838" stroke="#383838" stroke-width="2" stroke-linejoin="round"/>
<path d="M1221.0 714.0 L1236.0 706.6 L1298.8 705.1 L1275.4 716.8 Z" fill="#474747" />
<path d="M1221.0 716.0 L1275.4 716.8 L1300.0 818.0 L1258.0 822.0 L1250.0 812.0 L1243.0 797.0 L1231.0 784.0 L1230.0 774.0 L1234.0 771.0 L1227.0 749.0 L1217.0 742.0 L1214.0 728.5 L1220.0 722.7 Z" fill="#2f2f2f" />
<path d="M1224 746 L1288 748" stroke="#3a3a3a" stroke-width="3"/>
<ellipse cx="1222" cy="731" rx="6" ry="9" fill="#333"/><ellipse cx="1237" cy="778" rx="6" ry="9" fill="#333"/>
<rect x="1176" y="704" width="18" height="8" fill="#4d5557"/>
<rect x="1196" y="676" width="62" height="22" rx="9" fill="#3c3c3c"/>
<circle cx="1298" cy="730" r="2" fill="#222"/><circle cx="1314" cy="779" r="2" fill="#222"/>
<rect x="1306" y="728" width="10" height="10" fill="#8a9699"/>
<path d="M1367.3 712.4 L1389.3 703.7 L1417.0 702.2 L1420.0 697.0 L1442.0 697.0 L1447.8 697.8 L1481.5 697.8 L1499.0 703.7 L1507.8 713.9 L1512.2 728.5 L1526.8 731.5 L1528.3 738.8 L1518.0 746.1 L1524.0 763.7 L1521.0 781.2 L1506.3 801.7 L1491.7 814.9 L1477.0 820.7 L1406.8 820.7 L1399.5 813.4 L1389.3 787.1 L1382.0 754.9 L1373.2 737.3 L1367.3 715.4 Z" fill="#3a3a3a" stroke="#3a3a3a" stroke-width="2" stroke-linejoin="round"/>
<path d="M1367.3 712.4 L1389.3 703.7 L1417.0 702.2 L1421.0 718.0 L1369.0 720.0 Z" fill="#474747" />
<path d="M1369.0 720.0 L1424.0 720.0 L1455.0 820.7 L1406.8 820.7 L1399.5 813.4 L1389.3 787.1 L1382.0 754.9 L1373.2 737.3 Z" fill="#2f2f2f" />
<path d="M1378 746 L1432 746" stroke="#3a3a3a" stroke-width="3"/>
<rect x="1440" y="679" width="40" height="17" rx="8" fill="#3a3a3a"/><ellipse cx="1474" cy="687" rx="7" ry="8.5" fill="#333"/>
<rect x="1402" y="682" width="17" height="10" rx="4" fill="#7d898c"/>
<rect x="1420" y="670" width="22" height="42" fill="#3d3d3d"/>
<ellipse cx="1466" cy="708" rx="11" ry="8" fill="#333"/>
<ellipse cx="1447" cy="730" rx="9" ry="6" fill="#333"/><ellipse cx="1462" cy="779" rx="10" ry="7" fill="#333"/>
<ellipse cx="1522" cy="736" rx="7" ry="8" fill="#383838"/>
<rect x="1198" y="668" width="10.5" height="44" rx="3" fill="#3e3e3e"/>
<rect x="1254.8" y="870.5" width="121.3" height="83.5" rx="12" fill="none" stroke="#e11d25" stroke-width="5"/>
<line x1="513" y1="115" x2="513" y2="253" stroke="#2a2a2a" stroke-width="1.2"/>
<line x1="597.5" y1="115" x2="597.5" y2="230" stroke="#2a2a2a" stroke-width="1.2"/>
<line x1="744.5" y1="115" x2="744.5" y2="318" stroke="#2a2a2a" stroke-width="1.2"/>
<line x1="808.5" y1="115" x2="808.5" y2="215" stroke="#2a2a2a" stroke-width="1.2"/>
<line x1="884" y1="115" x2="884" y2="299" stroke="#2a2a2a" stroke-width="1.2"/>
<line x1="1078.7" y1="115" x2="1078.7" y2="244" stroke="#2a2a2a" stroke-width="1.2"/>
<line x1="1467.3" y1="115" x2="1467.3" y2="169" stroke="#2a2a2a" stroke-width="1.2"/>
<line x1="1414" y1="251.2" x2="1805.5" y2="251.2" stroke="#2a2a2a" stroke-width="1.2"/>
<line x1="1014" y1="329.6" x2="1156" y2="329.6" stroke="#2a2a2a" stroke-width="1.2"/>
<line x1="1490" y1="511.3" x2="1806" y2="511.3" stroke="#2a2a2a" stroke-width="1.2"/>
<line x1="1665" y1="605.3" x2="1806" y2="605.3" stroke="#2a2a2a" stroke-width="1.2"/>
<line x1="1583.3" y1="667.3" x2="1806" y2="667.3" stroke="#2a2a2a" stroke-width="1.2"/>
<line x1="1262.6" y1="633.3" x2="1343.5" y2="633.3" stroke="#2a2a2a" stroke-width="1.2"/>
<line x1="948.8" y1="531.6" x2="1085.7" y2="531.6" stroke="#2a2a2a" stroke-width="1.2"/>
<line x1="680" y1="507" x2="680" y2="523" stroke="#2a2a2a" stroke-width="1.2"/>
<line x1="218" y1="609" x2="348" y2="609" stroke="#2a2a2a" stroke-width="1.2"/>
<line x1="217.6" y1="719.4" x2="406.2" y2="719.4" stroke="#2a2a2a" stroke-width="1.2"/>
<line x1="723.8" y1="890" x2="723.8" y2="1000" stroke="#2a2a2a" stroke-width="1.2"/>
<line x1="886.6" y1="828" x2="886.6" y2="1000" stroke="#2a2a2a" stroke-width="1.2"/>
<line x1="1112" y1="889.5" x2="1112" y2="1000" stroke="#2a2a2a" stroke-width="1.2"/>
<line x1="1017.7" y1="839" x2="1017.7" y2="897.5" stroke="#2a2a2a" stroke-width="1.2"/>
<path d="M502.9 95.1 L510.6 88.5 L514.9 88.5 L514.9 114.3 L510.6 114.3 L510.6 94.9 L502.9 97.9 Z" fill="#181212"/>
<text transform="translate(586.4 114.3) scale(1.2 1)" font-family="Liberation Sans" font-size="37.5" fill="#181212">2</text>
<text transform="translate(732.2 114.2) scale(1.2 1)" font-family="Liberation Sans" font-size="37.5" fill="#181212">3</text>
<text transform="translate(794.8 114.2) scale(1.2 1)" font-family="Liberation Sans" font-size="37.5" fill="#181212">4</text>
<text transform="translate(872.2 114.2) scale(1.2 1)" font-family="Liberation Sans" font-size="37.5" fill="#181212">5</text>
<text transform="translate(1066.5 114.0) scale(1.2 1)" font-family="Liberation Sans" font-size="37.5" fill="#181212">8</text>
<text transform="translate(1458.0 114.0) scale(1.2 1)" font-family="Liberation Sans" font-size="37.5" fill="#181212">9</text>
<path d="M1805.8 242.6 L1813.5 236.0 L1817.8 236.0 L1817.8 261.8 L1813.5 261.8 L1813.5 242.4 L1805.8 245.4 Z" fill="#181212"/>
<text transform="translate(1827.9 261.8) scale(1.2 1)" font-family="Liberation Sans" font-size="37.5" fill="#181212">0</text>
<path d="M1806.8 505.2 L1814.5 498.6 L1818.8 498.6 L1818.8 524.4 L1814.5 524.4 L1814.5 505.0 L1806.8 508.0 Z" fill="#181212"/>
<text transform="translate(1829.1 524.4) scale(1.2 1)" font-family="Liberation Sans" font-size="37.5" fill="#181212">3</text>
<path d="M1806.8 596.6 L1814.5 590.0 L1818.8 590.0 L1818.8 615.8 L1814.5 615.8 L1814.5 596.4 L1806.8 599.4 Z" fill="#181212"/>
<text transform="translate(1829.0 615.8) scale(1.2 1)" font-family="Liberation Sans" font-size="37.5" fill="#181212">4</text>
<path d="M1806.8 659.3 L1814.5 652.7 L1818.8 652.7 L1818.8 678.5 L1814.5 678.5 L1814.5 659.1 L1806.8 662.1 Z" fill="#181212"/>
<text transform="translate(1829.5 678.5) scale(1.2 1)" font-family="Liberation Sans" font-size="37.5" fill="#181212">5</text>
<path d="M1216.8 627.1 L1224.5 620.5 L1228.8 620.5 L1228.8 646.3 L1224.5 646.3 L1224.5 626.9 L1216.8 629.9 Z" fill="#181212"/>
<text transform="translate(1239.2 646.3) scale(1.2 1)" font-family="Liberation Sans" font-size="37.5" fill="#181212">6</text>
<path d="M1091.4 1008.2 L1099.1 1001.6 L1103.4 1001.6 L1103.4 1027.4 L1099.1 1027.4 L1099.1 1008.0 L1091.4 1011.0 Z" fill="#181212"/>
<text transform="translate(1115.0 1027.4) scale(1.2 1)" font-family="Liberation Sans" font-size="37.5" fill="#181212">7</text>
<text transform="translate(858.6 1027.4) scale(1.2 1)" font-family="Liberation Sans" font-size="37.5" fill="#181212">2</text>
<text transform="translate(886.0 1027.4) scale(1.2 1)" font-family="Liberation Sans" font-size="37.5" fill="#181212">0</text>
<text transform="translate(697.2 1027.6) scale(1.2 1)" font-family="Liberation Sans" font-size="37.5" fill="#181212">2</text>
<path d="M730.1 1008.4 L737.8 1001.8 L742.1 1001.8 L742.1 1027.6 L737.8 1027.6 L737.8 1008.2 L730.1 1011.2 Z" fill="#181212"/>
<text transform="translate(167.9 728.9) scale(1.2 1)" font-family="Liberation Sans" font-size="37.5" fill="#181212">2</text>
<text transform="translate(194.1 728.9) scale(1.2 1)" font-family="Liberation Sans" font-size="37.5" fill="#181212">4</text>
<text transform="translate(167.2 621.8) scale(1.2 1)" font-family="Liberation Sans" font-size="37.5" fill="#181212">2</text>
<text transform="translate(195.7 621.8) scale(1.2 1)" font-family="Liberation Sans" font-size="37.5" fill="#181212">5</text>
<text transform="translate(653.0 507.0) scale(1.2 1)" font-family="Liberation Sans" font-size="37.5" fill="#181212">2</text>
<text transform="translate(682.5 507.0) scale(1.2 1)" font-family="Liberation Sans" font-size="37.5" fill="#181212">7</text>
<text transform="translate(1154.4 341.0) scale(1.2 1)" font-family="Liberation Sans" font-size="37.5" fill="#181212">2</text>
<text transform="translate(1181.6 341.0) scale(1.2 1)" font-family="Liberation Sans" font-size="37.5" fill="#181212">8</text>
<text transform="translate(1085.0 543.6) scale(1.2 1)" font-family="Liberation Sans" font-size="37.5" fill="#181212">2</text>
<text transform="translate(1112.4 543.6) scale(1.2 1)" font-family="Liberation Sans" font-size="37.5" fill="#181212">9</text>
</svg></body></html>
